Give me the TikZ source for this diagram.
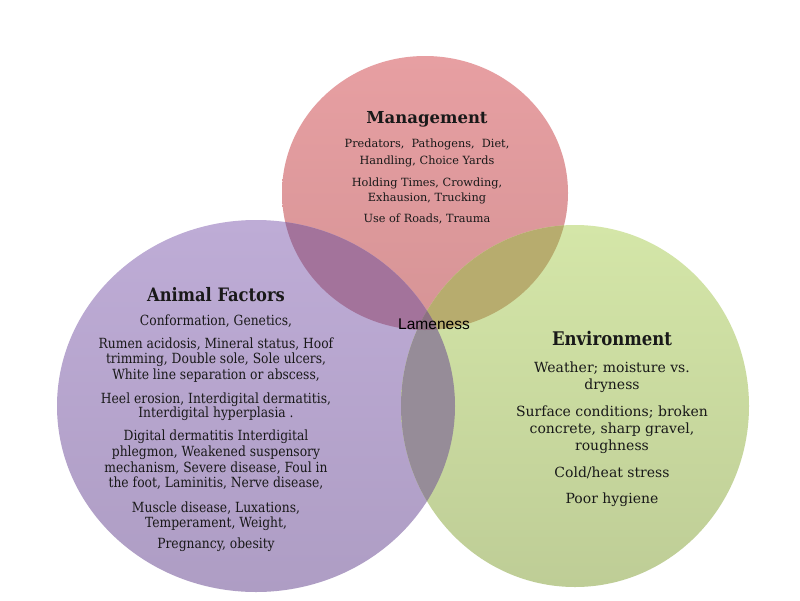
\documentclass[tikz,border=0pt]{standalone}
\usepackage{fontspec}
\setmainfont{DejaVu Serif}
\newfontfamily\afont[FakeStretch=0.88]{DejaVu Serif}
\newfontfamily\lfont{Liberation Sans}
\definecolor{pinkT}{RGB}{231,159,162}
\definecolor{pinkB}{RGB}{214,148,150}
\definecolor{purT}{RGB}{190,172,214}
\definecolor{purB}{RGB}{174,157,196}
\definecolor{grnT}{RGB}{212,230,168}
\definecolor{grnB}{RGB}{190,205,150}
\definecolor{mauve}{RGB}{163,115,155}
\definecolor{olive}{RGB}{183,172,110}
\definecolor{greyov}{RGB}{150,140,152}
\definecolor{triple}{RGB}{140,112,130}
\definecolor{txt}{RGB}{25,25,25}
\tikzset{
  mtitle/.style={anchor=base, inner sep=0pt, text=txt, font=\fontsize{16.5}{19}\selectfont\bfseries},
  mbody/.style={anchor=base, inner sep=0pt, text=txt, font=\fontsize{11.3}{13}\selectfont},
  atitle/.style={anchor=base, inner sep=0pt, text=txt, font=\afont\fontsize{18.5}{21}\selectfont\bfseries},
  abody/.style={anchor=base, inner sep=0pt, text=txt, font=\afont\fontsize{14}{16}\selectfont},
  etitle/.style={anchor=base, inner sep=0pt, text=txt, font=\afont\fontsize{18.8}{21}\selectfont\bfseries},
  ebody/.style={anchor=base, inner sep=0pt, text=txt, font=\fontsize{14}{16}\selectfont},
  lame/.style={anchor=base, inner sep=0pt, text=black, font=\lfont\fontsize{15.5}{18}\selectfont}
}
\begin{document}
\begin{tikzpicture}[x=1pt,y=-1pt]
\useasboundingbox (0,0) rectangle (800,600);
\fill[white] (0,0) rectangle (800,600);
\coordinate (mc) at (425,193);
\coordinate (ac) at (256,406);
\coordinate (ec) at (575,406);
\def\mell{(mc) ellipse [x radius=143, y radius=137]}
\def\aell{(ac) ellipse [x radius=199, y radius=186]}
\def\eell{(ec) ellipse [x radius=174, y radius=181]}
% circles
\shade[top color=pinkT, bottom color=pinkB] \mell;
\shade[top color=purT, bottom color=purB] \aell;
\shade[top color=grnT, bottom color=grnB] \eell;
% overlaps
\begin{scope}
  \clip \mell;
  \fill[mauve] \aell;
  \fill[olive] \eell;
\end{scope}
\begin{scope}
  \clip \aell;
  \fill[greyov] \eell;
\end{scope}
\begin{scope}
  \clip \mell;
  \clip \aell;
  \fill[triple] \eell;
\end{scope}
% Management
\node[mtitle] (mt) at (427,123) {Management};
\foreach \t/\y [count=\i] in {{Predators,\ \ Pathogens,\ \ Diet,}/147,{Handling, Choice Yards}/164,{Holding Times, Crowding,}/186,{Exhausion, Trucking}/201,{Use of Roads, Trauma}/222}
  \node[mbody] (m\i) at (427,\y) {\t};
% Animal factors
\node[atitle] (at) at (216,301) {Animal Factors};
\foreach \t/\y [count=\i] in {{Conformation, Genetics,}/325,{Rumen acidosis, Mineral status, Hoof}/348,{trimming, Double sole, Sole ulcers,}/363,{White line separation or abscess,}/379,{Heel erosion, Interdigital dermatitis,}/403,{Interdigital hyperplasia .}/417,{Digital dermatitis Interdigital}/440,{phlegmon, Weakened suspensory}/456,{mechanism, Severe disease, Foul in}/472,{the foot,\ Laminitis, Nerve disease,}/487,{Muscle disease, Luxations,}/512,{Temperament, Weight,}/527,{Pregnancy, obesity}/548}
  \node[abody] (a\i) at (216,\y) {\t};
% Environment
\node[etitle] (et) at (612,345) {Environment};
\foreach \t/\y [count=\i] in {{Weather; moisture vs.}/372,{dryness}/389,{Surface conditions; broken}/416,{concrete, sharp gravel,}/433,{roughness}/450,{Cold/heat stress}/477,{Poor hygiene}/503}
  \node[ebody] (e\i) at (612,\y) {\t};
% centre
\node[lame] (lm) at (434,329) {Lameness};
\end{tikzpicture}
\end{document}
